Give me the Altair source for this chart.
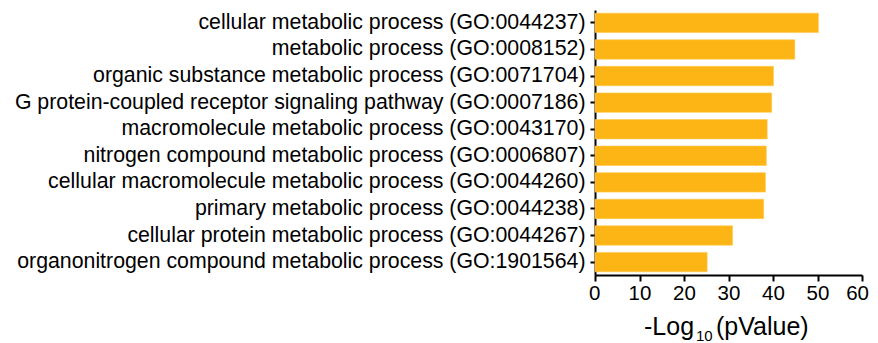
import altair as alt
import pandas as pd

terms = [
    "cellular metabolic process (GO:0044237)",
    "metabolic process (GO:0008152)",
    "organic substance metabolic process (GO:0071704)",
    "G protein-coupled receptor signaling pathway (GO:0007186)",
    "macromolecule metabolic process (GO:0043170)",
    "nitrogen compound metabolic process (GO:0006807)",
    "cellular macromolecule metabolic process (GO:0044260)",
    "primary metabolic process (GO:0044238)",
    "cellular protein metabolic process (GO:0044267)",
    "organonitrogen compound metabolic process (GO:1901564)",
]
values = [50.2, 44.9, 40.1, 39.7, 38.7, 38.5, 38.3, 37.9, 30.9, 25.2]
x_ticks = [0, 10, 20, 30, 40, 50, 60]

title_main = ["-Log", "(pValue)"]
title_sub = ["10"]

df = pd.DataFrame({"term": terms, "value": values})

FONT = "Liberation Sans"
W, H = 267, 265

bars = alt.Chart(df).mark_bar(color="#FDB515", stroke="#FEC84A", strokeWidth=0.6).encode(
    x=alt.X("value:Q", scale=alt.Scale(domain=[0, 60], nice=False),
            axis=alt.Axis(values=x_ticks, title=None, labelFontSize=20.5, tickSize=6,
                          labelPadding=2, labelFlush=True, labelFlushOffset=6.5)),
    y=alt.Y("term:N", sort=terms,
            scale=alt.Scale(paddingInner=0.27, paddingOuter=0.12),
            axis=alt.Axis(title=None, labelFontSize=21.3, tickSize=5, labelPadding=5,
                          labelLimit=0)),
)

t1 = alt.Chart(pd.DataFrame({"t": [title_main[0]]})).mark_text(
    font=FONT, fontSize=25, align="left", baseline="alphabetic", color="black"
).encode(text="t:N", x=alt.value(49), y=alt.value(325))

t2 = alt.Chart(pd.DataFrame({"t": title_sub})).mark_text(
    font=FONT, fontSize=15, align="left", baseline="alphabetic", color="black"
).encode(text="t:N", x=alt.value(101), y=alt.value(331))

t3 = alt.Chart(pd.DataFrame({"t": [title_main[1]]})).mark_text(
    font=FONT, fontSize=25, align="left", baseline="alphabetic", color="black"
).encode(text="t:N", x=alt.value(121), y=alt.value(325))

chart = alt.layer(bars, t1, t2, t3).properties(
    width=W, height=H,
    autosize=alt.AutoSizeParams(type="none"),
    padding={"left": 587, "top": 2, "right": 8, "bottom": 68},
).configure_view(stroke=None).configure_axis(
    grid=False,
    domainColor="black", domainWidth=2,
    tickColor="black", tickWidth=2,
    labelColor="black", labelFont=FONT,
)

chart.save("out.html", embed_options={"renderer": "svg", "actions": False})
